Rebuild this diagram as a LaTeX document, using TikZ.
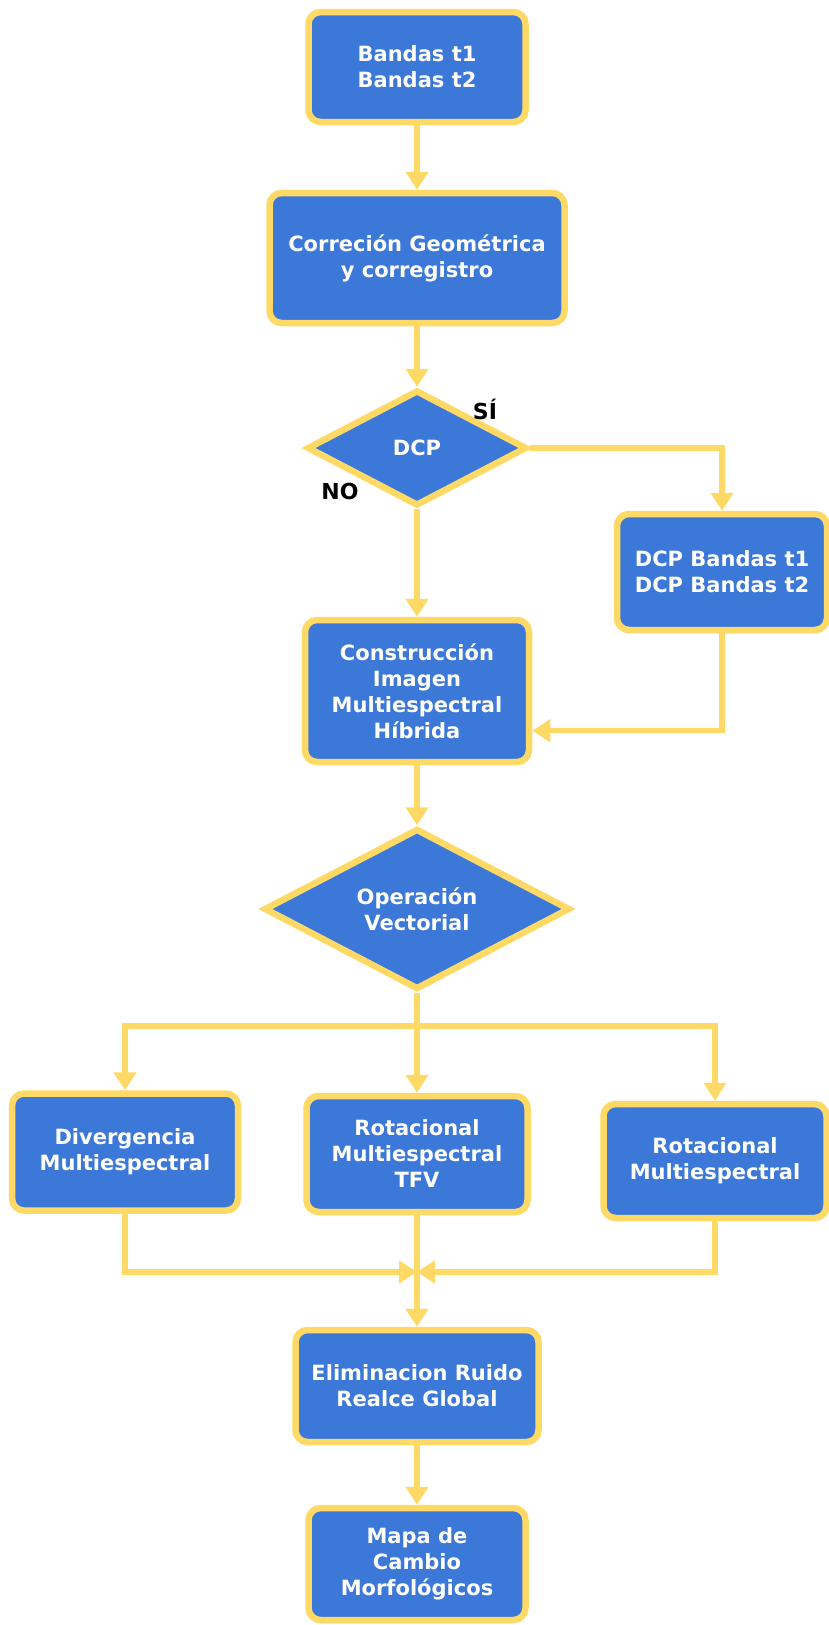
\documentclass[tikz,border=0pt]{standalone}
\usepackage{fontspec}
\setmainfont{DejaVu Sans}
\usepackage{xcolor}
\usepackage{tikz}
\usetikzlibrary{positioning, shapes.geometric, arrows.meta}
\definecolor{boxblue}{HTML}{3C78D8}
\definecolor{lineyellow}{HTML}{FFD966}

\begin{document}
\begin{tikzpicture} [x = 1pt, y = -1pt,
					box/.style = {draw = lineyellow,
					    fill = boxblue,
					    line width = 6.5pt,
					    rounded corners = 12pt,
					    inner sep = 0pt,
					    align = center,
					    text = white,
					    font = \bfseries\fontsize{21}{26}\selectfont},
					decision/.style = {box,
					    diamond,
					    rounded corners = 0pt,
					    shape aspect = 1.9},
					flow/.style = {color = lineyellow,
					    line width = 5.5pt,
					    -{Triangle[width = 22pt, length = 18pt]}},
					answer/.style = {font = \bfseries\fontsize{22}{26}\selectfont}]

					\useasboundingbox (0,0) rectangle (829,1625);

					\node (Band) at (417,67) [box, minimum width = 217pt, minimum height = 110pt] {Bandas t1\\Bandas t2};
					\node (Corr) at (417,258) [box, minimum width = 295pt, minimum height = 130pt] {Correción Geométrica\\y corregistro};
					\node (DCP) at (417,448) [decision, minimum width = 220pt, minimum height = 116pt] {DCP};
					\node (DCPB) at (722,572) [box, minimum width = 210pt, minimum height = 116pt] {DCP Bandas t1\\DCP Bandas t2};
					\node (Cons) at (417,691) [box, minimum width = 224pt, minimum height = 142pt] {Construcción\\Imagen\\Multiespectral\\Híbrida};
					\node (Oper) at (417,909) [decision, minimum width = 306pt, minimum height = 161pt] {Operación\\Vectorial};
					\node (Div) at (125,1152) [box, minimum width = 226pt, minimum height = 117pt] {Divergencia\\Multiespectral};
					\node (RotT) at (417,1154) [box, minimum width = 221pt, minimum height = 116pt] {Rotacional\\Multiespectral\\TFV};
					\node (Rot) at (715,1161) [box, minimum width = 223pt, minimum height = 114pt] {Rotacional\\Multiespectral};
					\node (Elim) at (417,1386) [box, minimum width = 243pt, minimum height = 112pt] {Eliminacion Ruido\\Realce Global};
					\node (Mapa) at (417,1564) [box, minimum width = 217pt, minimum height = 112pt] {Mapa de\\Cambio\\Morfológicos};

					\node (Si) at (485,409) [answer] {SÍ};
					\node (No) at (340,491) [answer] {NO};

					\coordinate (Split) at (417,1026);
					\coordinate (Merge) at (417,1272);

					\draw[flow] (Band) -- (Corr);
					\draw[flow] (Corr) -- (DCP);
					\draw[flow] (DCP.east) -| (DCPB.north);
					\draw[flow] (DCP.south) -- (Cons.north);
					\draw[flow] (DCPB.south) |- (Cons.-19);
					\draw[flow] (Cons) -- (Oper);
					\draw[flow, -] (Oper.south) -- (Split);
					\draw[flow] (Split) -| (Div.north);
					\draw[flow] (Split) -- (RotT.north);
					\draw[flow] (Split) -| (Rot.north);
					\draw[flow] (Div.south) |- (Merge);
					\draw[flow] (Rot.south) |- (Merge);
					\draw[flow] (RotT.south) -- (Elim.north);
					\draw[flow] (Elim) -- (Mapa);
				\end{tikzpicture}
\end{document}
